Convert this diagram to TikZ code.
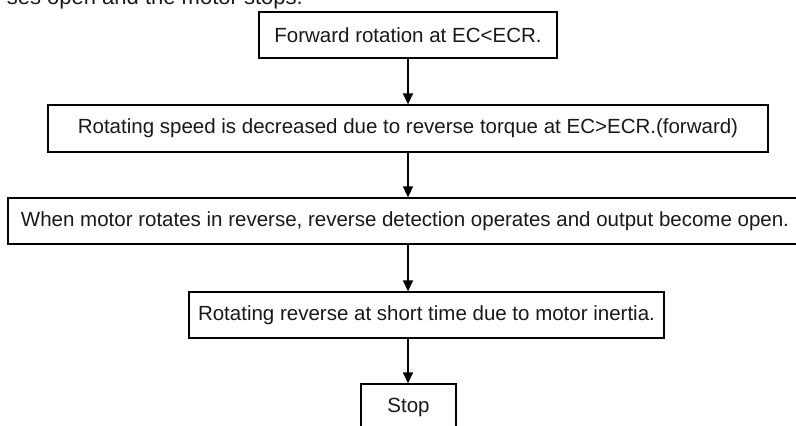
\documentclass[tikz,border=0pt]{standalone}
\usepackage{fontspec}
\setmainfont{Liberation Sans}
\usetikzlibrary{arrows.meta}
\tikzset{
  flowbox/.style={draw=black, line width=1.3pt, inner sep=0pt, font=\fontsize{20.5}{24}\selectfont, text=black!90},
  flowarrow/.style={draw=black, line width=1.3pt, -{Triangle[width=10pt,length=11pt]}},
}
\begin{document}
\begin{tikzpicture}[x=1pt,y=-1pt]
\useasboundingbox (0,0) rectangle (796,426);
\clip (0,0) rectangle (796,426);
\node[anchor=base east, inner sep=0pt, font=\fontsize{22}{26}\selectfont, text=black!90] (head) at (303,4.5) {ses open and the motor stops.};
\node[flowbox, minimum width=298pt, minimum height=46pt] (b1) at (408,35) {Forward rotation at EC<ECR.};
\node[flowbox, minimum width=720pt, minimum height=47pt] (b2) at (408,128.5) {Rotating speed is decreased due to reverse torque at EC>ECR.(forward)};
\node[flowbox, minimum width=794pt, minimum height=46pt] (b3) at (405,221) {When motor rotates in reverse, reverse detection operates and output become open.};
\node[flowbox, minimum width=475pt, minimum height=46pt] (b4) at (426.5,315) {Rotating reverse at short time due to motor inertia.};
\node[flowbox, minimum width=95pt, minimum height=46pt] (b5) at (408.5,407) {Stop};
\draw[flowarrow] (b1.south) -- (b2.north);
\draw[flowarrow] (b2.south) -- (b3.north -| b2.south);
\draw[flowarrow] (b3.south -| b2.south) -- (b4.north -| b2.south);
\draw[flowarrow] (b4.south -| b2.south) -- (b5.north -| b2.south);
\end{tikzpicture}
\end{document}
